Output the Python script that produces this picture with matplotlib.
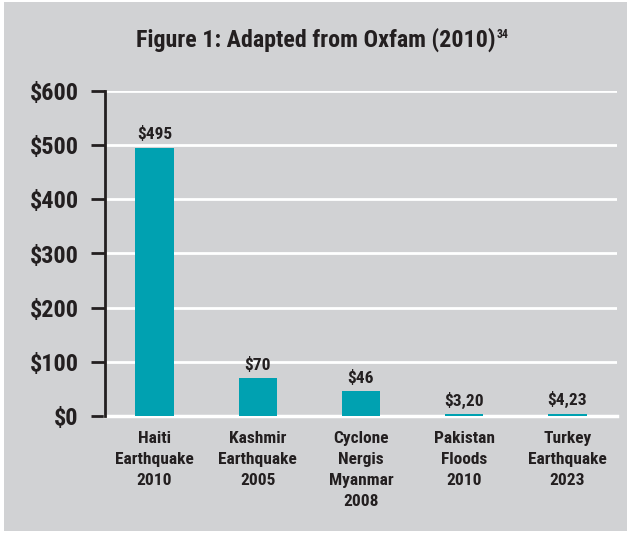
import matplotlib
matplotlib.use("Agg")
import matplotlib.pyplot as plt
from matplotlib.patches import Rectangle
from matplotlib import font_manager

# data
categories = ["Haiti\nEarthquake\n2010", "Kashmir\nEarthquake\n2005",
              "Cyclone\nNergis\nMyanmar\n2008", "Pakistan\nFloods\n2010",
              "Turkey\nEarthquake\n2023"]
values = [495, 70, 46, 3.20, 4.23]
value_labels = ["$495", "$70", "$46", "$3,20", "$4,23"]
yticks = [0, 100, 200, 300, 400, 500, 600]
ytick_labels = ["$" + str(v) for v in yticks]

bg = "#d1d2d4"
teal = "#00a1b1"
ink = "#231f20"

# condensed bold face if one is around, else DejaVu
have = {f.name for f in font_manager.fontManager.ttflist}
wanted = ["Roboto Condensed", "Fira Sans Condensed", "Barlow Semi Condensed",
          "Archivo Narrow", "PT Sans Narrow", "Liberation Sans Narrow"]
fams = [f for f in wanted if f in have] + ["DejaVu Sans"]
plt.rcParams["font.family"] = fams

fig = plt.figure(figsize=(6.27, 5.33), dpi=100)
fig.patch.set_facecolor("white")
# grey panel, small white margin at top/left like the scan
fig.patches.append(Rectangle((4 / 627, 2 / 533), 1, 529 / 533, transform=fig.transFigure,
                             facecolor=bg, edgecolor="none", zorder=-10))

ax = fig.add_axes([105 / 627, 1 - 416 / 533, 512 / 627, 325 / 533])
ax.set_facecolor(bg)

x = range(len(categories))
ax.bar(x, values, width=0.37, color=teal, zorder=3)
for i, v in enumerate(values):
    ax.text(i, v + 10, value_labels[i], ha="center", va="bottom",
            fontsize=12.5, fontweight="bold", color=ink)

ax.set_xlim(-0.48, 4.48)
ax.set_ylim(0, 600)
ax.set_yticks(yticks)
ax.set_yticklabels(ytick_labels, fontsize=17.5, fontweight="bold", color=ink)
ax.set_xticks(list(x))
ax.set_xticklabels(categories, fontsize=12.5, fontweight="bold", color=ink, linespacing=1.5)
ax.tick_params(axis="x", length=0, pad=11)
ax.tick_params(axis="y", length=10, width=2, color=ink, pad=9)

ax.yaxis.grid(True, color="white", linewidth=2, zorder=1)
ax.set_axisbelow(True)
for s in ["top", "right"]:
    ax.spines[s].set_visible(False)
ax.spines["bottom"].set_color("white")
ax.spines["bottom"].set_linewidth(2.5)
ax.spines["bottom"].set_zorder(2)
ax.spines["left"].set_color(ink)
ax.spines["left"].set_linewidth(2)

fig.text(496 / 627, 1 - 40 / 533, "Figure 1: Adapted from Oxfam (2010)",
         ha="right", va="center", fontsize=17.3, fontweight="bold", color=ink)
fig.text(497 / 627, 1 - 34 / 533, "34", ha="left", va="center",
         fontsize=8.5, fontweight="bold", color=ink)

fig.savefig("out.png", dpi=100, facecolor=fig.get_facecolor())
